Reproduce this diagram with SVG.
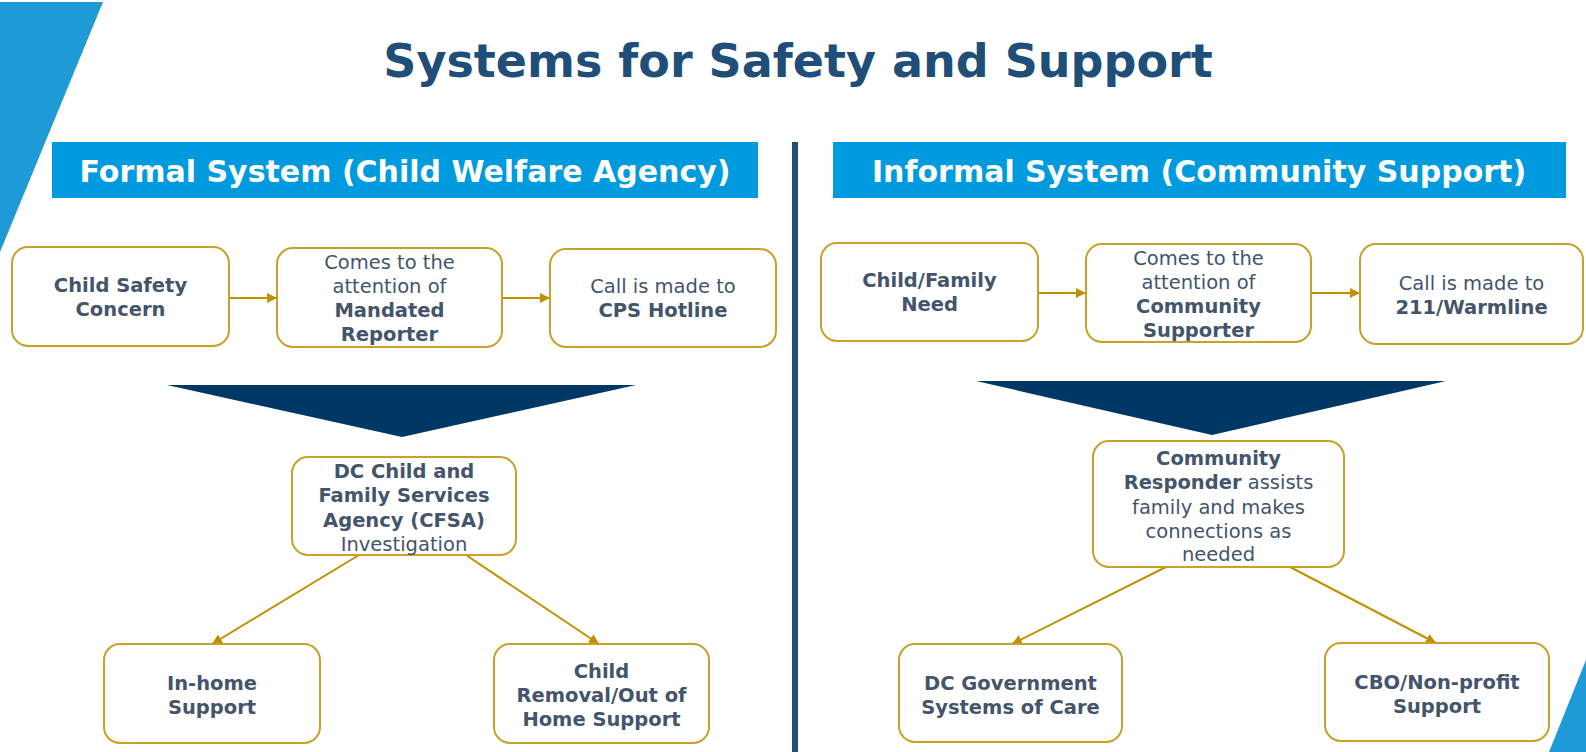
<svg xmlns="http://www.w3.org/2000/svg" width="1586" height="752" viewBox="0 0 1586 752">
<style>
.box{fill:#ffffff;stroke:#C8A02A;stroke-width:2}
.t{font-family:"DejaVu Sans","Liberation Sans",sans-serif;font-size:19.5px;fill:#44546A;text-anchor:middle}
.b{font-weight:bold}
.hdr{font-family:"DejaVu Sans","Liberation Sans",sans-serif;font-size:30px;font-weight:bold;fill:#ffffff;text-anchor:middle}
.conn{stroke:#BF9000;stroke-width:2;fill:none}
</style>
<defs>
<marker id="ah" viewBox="0 0 10 10" refX="10" refY="5" markerWidth="10" markerHeight="10" markerUnits="userSpaceOnUse" orient="auto">
<path d="M0,0 L10,5 L0,10 Z" fill="#BF9000"/>
</marker>
</defs>
<rect width="1586" height="752" fill="#ffffff"/>
<polygon points="0,2 103,2 0,252" fill="#1E9AD6"/>
<polygon points="1586,660 1549,752 1586,752" fill="#1E9AD6"/>
<text x="798" y="77" font-family="DejaVu Sans, Liberation Sans, sans-serif" font-size="46" font-weight="bold" fill="#1F4E79" text-anchor="middle">Systems for Safety and Support</text>
<rect x="792" y="142" width="6" height="610" fill="#1F4E79"/>
<g id="hdr-formal"><rect x="52" y="142" width="706" height="56" fill="#009ADE"/><text class="hdr" x="405" y="182">Formal System (Child Welfare Agency)</text></g>
<g id="hdr-informal"><rect x="833" y="142" width="733" height="56" fill="#009ADE"/><text class="hdr" x="1199" y="182">Informal System (Community Support)</text></g>
<polygon id="funnel-left" points="167,385 636,385 402,437" fill="#003865"/>
<polygon id="funnel-right" points="976,381 1446,381 1212,435" fill="#003865"/>
<g id="connectors">
<line class="conn" x1="229" y1="298" x2="277" y2="298" marker-end="url(#ah)"/>
<line class="conn" x1="502" y1="298" x2="550" y2="298" marker-end="url(#ah)"/>
<line class="conn" x1="1038" y1="293" x2="1086" y2="293" marker-end="url(#ah)"/>
<line class="conn" x1="1311" y1="293" x2="1360" y2="293" marker-end="url(#ah)"/>
<line class="conn" x1="359" y1="555" x2="212" y2="644" marker-end="url(#ah)"/>
<line class="conn" x1="466" y1="555" x2="599" y2="644" marker-end="url(#ah)"/>
<line class="conn" x1="1166" y1="567" x2="1012" y2="644" marker-end="url(#ah)"/>
<line class="conn" x1="1290" y1="567" x2="1436" y2="643" marker-end="url(#ah)"/>
</g>
<g id="child-safety-concern"><rect class="box" x="12" y="247" width="217" height="99" rx="16"/><text class="t b" x="120.5" y="292">Child Safety</text><text class="t b" x="120.5" y="316">Concern</text></g>
<g id="mandated-reporter"><rect class="box" x="277" y="248" width="225" height="99" rx="16"/><text class="t" x="389.5" y="269">Comes to the</text><text class="t" x="389.5" y="293">attention of</text><text class="t b" x="389.5" y="317">Mandated</text><text class="t b" x="389.5" y="341">Reporter</text></g>
<g id="cps-hotline"><rect class="box" x="550" y="249" width="226" height="98" rx="16"/><text class="t" x="663" y="293">Call is made to</text><text class="t b" x="663" y="317">CPS Hotline</text></g>
<g id="child-family-need"><rect class="box" x="821" y="243" width="217" height="98" rx="16"/><text class="t b" x="929.5" y="287">Child/Family</text><text class="t b" x="929.5" y="311">Need</text></g>
<g id="community-supporter"><rect class="box" x="1086" y="244" width="225" height="98" rx="16"/><text class="t" x="1198.5" y="265">Comes to the</text><text class="t" x="1198.5" y="289">attention of</text><text class="t b" x="1198.5" y="313">Community</text><text class="t b" x="1198.5" y="337">Supporter</text></g>
<g id="warmline"><rect class="box" x="1360" y="244" width="223" height="100" rx="16"/><text class="t" x="1471.5" y="290">Call is made to</text><text class="t b" x="1471.5" y="314">211/Warmline</text></g>
<g id="cfsa"><rect class="box" x="292" y="457" width="224" height="98" rx="16"/><text class="t b" x="404" y="478">DC Child and</text><text class="t b" x="404" y="502">Family Services</text><text class="t b" x="404" y="527">Agency (CFSA)</text><text class="t" x="404" y="551">Investigation</text></g>
<g id="community-responder"><rect class="box" x="1093" y="441" width="251" height="126" rx="16"/><text class="t b" x="1218.5" y="465">Community</text><text class="t" x="1218.5" y="489"><tspan class="b">Responder</tspan> assists</text><text class="t" x="1218.5" y="514">family and makes</text><text class="t" x="1218.5" y="538">connections as</text><text class="t" x="1218.5" y="561">needed</text></g>
<g id="in-home-support"><rect class="box" x="104" y="644" width="216" height="99" rx="16"/><text class="t b" x="212" y="690">In-home</text><text class="t b" x="212" y="714">Support</text></g>
<g id="child-removal"><rect class="box" x="494" y="644" width="215" height="99" rx="16"/><text class="t b" x="601.5" y="678">Child</text><text class="t b" x="601.5" y="702">Removal/Out of</text><text class="t b" x="601.5" y="726">Home Support</text></g>
<g id="dc-government"><rect class="box" x="899" y="644" width="223" height="98" rx="16"/><text class="t b" x="1010.5" y="690">DC Government</text><text class="t b" x="1010.5" y="714">Systems of Care</text></g>
<g id="cbo-nonprofit"><rect class="box" x="1325" y="643" width="224" height="98" rx="16"/><text class="t b" x="1437" y="689">CBO/Non-profit</text><text class="t b" x="1437" y="713">Support</text></g>
</svg>
